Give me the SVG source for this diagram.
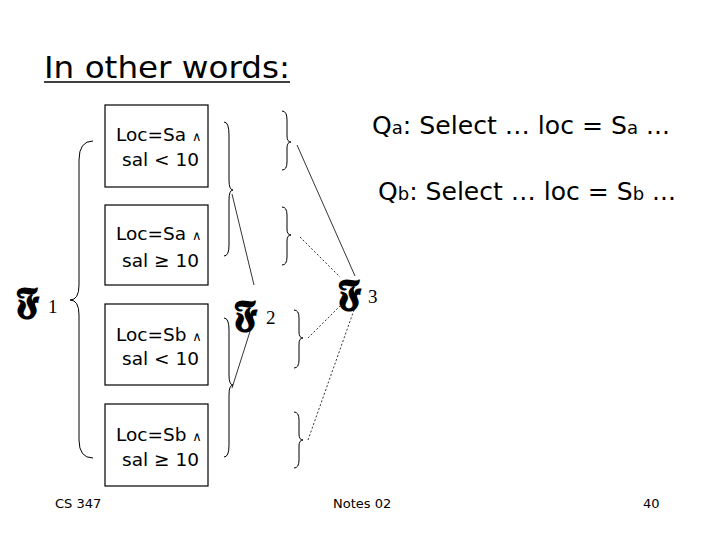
<svg xmlns="http://www.w3.org/2000/svg" width="720" height="540" viewBox="0 0 720 540">
<style>
.t{font-family:"DejaVu Sans",sans-serif;fill:#000}
.b{fill:#fff;stroke:#000;stroke-width:1.2}
.br{fill:none;stroke:#000;stroke-width:1}
.c{fill:none;stroke:#000;stroke-width:0.8}
.d{fill:none;stroke:#000;stroke-width:0.8;stroke-dasharray:2 2}
.f{font-family:"DejaVu Serif","DejaVu Sans",serif;font-weight:bold;font-size:38px}
.s{font-family:"Liberation Serif",serif;font-size:19px}
.n{font-size:18.5px}
.w{font-size:13px}
</style>
<rect width="720" height="540" fill="#fff"/>
<text class="t" x="44" y="78" font-size="31" textLength="246" lengthAdjust="spacingAndGlyphs">In other words:</text>
<line x1="44" y1="82" x2="290" y2="82" stroke="#000" stroke-width="1.5"/>
<g id="qa"><text class="t" x="372" y="134" font-size="25" textLength="298" lengthAdjust="spacingAndGlyphs">Q<tspan font-size="18">a</tspan>: Select … loc = S<tspan font-size="18">a</tspan> ...</text></g>
<g id="qb"><text class="t" x="378" y="200" font-size="25" textLength="298" lengthAdjust="spacingAndGlyphs">Q<tspan font-size="18">b</tspan>: Select … loc = S<tspan font-size="18">b</tspan> ...</text></g>
<g id="n1"><rect class="b" x="105" y="105" width="103" height="82"/><text class="t n" x="116" y="141">Loc=Sa <tspan class="w">∧</tspan></text><text class="t n" x="122" y="166">sal &lt; 10</text></g>
<g id="n2"><rect class="b" x="105" y="205" width="103" height="80"/><text class="t n" x="116" y="240">Loc=Sa <tspan class="w">∧</tspan></text><text class="t n" x="122" y="267">sal ≥ 10</text></g>
<g id="n3"><rect class="b" x="105" y="304" width="103" height="81"/><text class="t n" x="116" y="341">Loc=Sb <tspan class="w">∧</tspan></text><text class="t n" x="122" y="365">sal &lt; 10</text></g>
<g id="n4"><rect class="b" x="105" y="404" width="103" height="82"/><text class="t n" x="116" y="441">Loc=Sb <tspan class="w">∧</tspan></text><text class="t n" x="122" y="466">sal ≥ 10</text></g>
<g id="f1"><text class="f" x="16" y="313">𝕱</text><text class="s" x="48" y="313">1</text></g>
<g id="f2"><text class="f" x="234" y="326">𝕱</text><text class="s" x="266" y="324">2</text></g>
<g id="f3"><text class="f" x="338" y="305">𝕱</text><text class="s" x="368" y="303">3</text></g>
<g id="connectors">
<path class="br" d="M93,141 Q79,141 79,160 L79,285 Q79,300 70,300 Q79,300 79,315 L79,440 Q79,458 93,458"/>
<path class="br" d="M224,122 Q229,122 229,135 L229,180 Q229,190 233,190 Q229,190 229,200 L229,245 Q229,256 224,256"/>
<path class="br" d="M224,318 Q229,318 229,330 L229,375 Q229,385 233,385 Q229,385 229,395 L229,445 Q229,457 224,457"/>
<path class="br" d="M282,111 Q287,111 287,120 L287,136 Q287,142 291,142 Q287,142 287,148 L287,162 Q287,170 282,170"/>
<path class="br" d="M282,207 Q287,207 287,215 L287,229 Q287,235 291,235 Q287,235 287,241 L287,257 Q287,265 282,265"/>
<path class="br" d="M294,310 Q299,310 299,318 L299,332 Q299,338 303,338 Q299,338 299,344 L299,360 Q299,368 294,368"/>
<path class="br" d="M294,412 Q299,412 299,420 L299,434 Q299,440 303,440 Q299,440 299,446 L299,460 Q299,468 294,468"/>
<line class="c" x1="232" y1="194" x2="254" y2="285"/>
<line class="c" x1="232" y1="388" x2="253" y2="322"/>
<line class="c" x1="297" y1="145" x2="355" y2="276"/>
<line class="d" x1="300" y1="237" x2="340" y2="277"/>
<line class="d" x1="308" y1="338" x2="340" y2="306"/>
<line class="d" x1="308" y1="440" x2="354" y2="310"/>
</g>
<text class="t" x="55" y="508" font-size="13">CS 347</text>
<text class="t" x="333" y="508" font-size="13">Notes 02</text>
<text class="t" x="643" y="508" font-size="13">40</text>
</svg>
